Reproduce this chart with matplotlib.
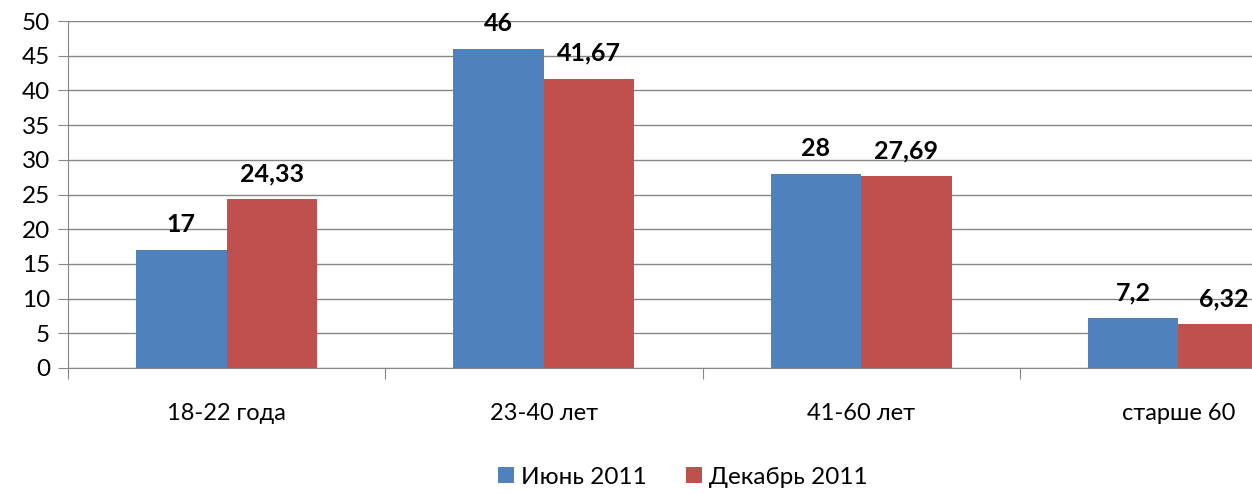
import matplotlib.pyplot as plt
import numpy as np

plt.rcParams['font.family'] = ['Lato', 'DejaVu Sans']

# данные
categories = ['18-22 года', '23-40 лет', '41-60 лет', 'старше 60']
series_names = ['Июнь 2011', 'Декабрь 2011']
june = [17, 46, 28, 7.2]
december = [24.33, 41.67, 27.69, 6.32]
colors = ['#4F81BD', '#C0504D']

W, H = 1252, 494
fig = plt.figure(figsize=(W / 100, H / 100), dpi=100)
# ось продолжается за правый край картинки, как в оригинале
ax = fig.add_axes([68 / W, 126 / H, 1269 / W, 347 / H])

x = np.arange(len(categories))
bw = 0.285
b1 = ax.bar(x - bw / 2, june, bw, color=colors[0], label=series_names[0], zorder=3)
b2 = ax.bar(x + bw / 2, december, bw, color=colors[1], label=series_names[1], zorder=3)

def fmt(v):
    s = ('%g' % v).replace('.', ',')
    return s

for bars, vals in ((b1, june), (b2, december)):
    for bar, v in zip(bars, vals):
        ax.annotate(fmt(v), (bar.get_x() + bar.get_width() / 2, bar.get_height()),
                    xytext=(0, 10), textcoords='offset points', ha='center', va='bottom',
                    fontsize=18, fontweight='bold', color='black', zorder=4)

ax.set_xlim(-0.5, len(categories) - 0.5)
ax.set_ylim(0, 50)
ax.set_yticks(range(0, 51, 5))
ax.tick_params(axis='y', labelsize=17.5, length=7, color='#868686', pad=6)

# деления оси X на границах категорий, подписи по центру
ax.set_xticks(np.arange(-0.5, len(categories), 1.0))
ax.set_xticklabels([])
ax.set_xticks(x, minor=True)
ax.set_xticklabels(categories, minor=True, fontsize=17)
ax.tick_params(axis='x', which='major', length=8, color='#868686')
ax.tick_params(axis='x', which='minor', length=0, pad=25)

ax.yaxis.grid(True, color='#868686', linewidth=1, zorder=0)
ax.set_axisbelow(True)
for side in ('top', 'right'):
    ax.spines[side].set_visible(False)
for side in ('left', 'bottom'):
    ax.spines[side].set_color('#868686')

fig.legend(loc='center', bbox_to_anchor=(683 / W, 1 - 477 / H), ncol=2, frameon=False,
           fontsize=17.5, handlelength=0.65, handleheight=0.65, handletextpad=0.3, columnspacing=1.6)

fig.savefig('out.png', dpi=100)
